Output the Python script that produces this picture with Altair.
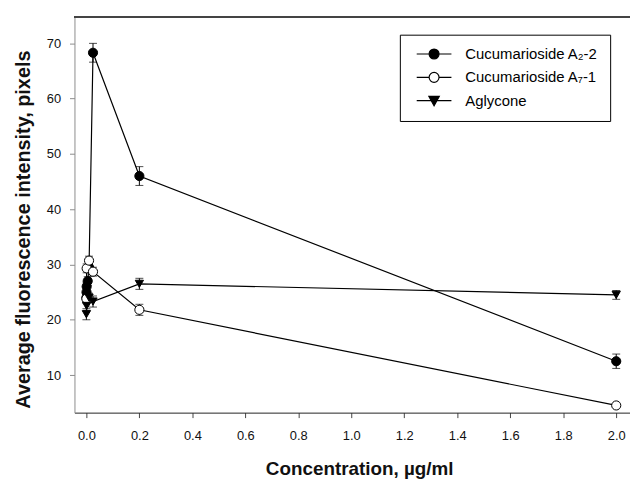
import altair as alt
import pandas as pd

# ---- data ----
series_names = ["Cucumarioside A₂-2", "Cucumarioside A₇-1", "Aglycone"]

a22_x = [0.0, 0.0005, 0.001, 0.005, 0.01, 0.025, 0.2, 2.0]
a22_y = [24.0, 25.0, 26.0, 27.0, 29.5, 68.3, 46.0, 12.5]
a22_e = [0.8, 0.8, 0.8, 0.8, 0.8, 1.7, 1.7, 1.3]

a71_x = [0.0, 0.001, 0.01, 0.025, 0.2, 2.0]
a71_y = [23.8, 29.3, 30.7, 28.7, 21.8, 4.5]
a71_e = [0.8, 0.8, 0.8, 0.8, 1.0, 0.3]

agl_x = [0.0, 0.001, 0.01, 0.025, 0.2, 2.0]
agl_y = [21.0, 22.5, 24.0, 23.3, 26.5, 24.5]
agl_e = [1.0, 0.8, 0.8, 1.0, 1.0, 0.8]

x_ticks = [0.0, 0.2, 0.4, 0.6, 0.8, 1.0, 1.2, 1.4, 1.6, 1.8, 2.0]
y_ticks = [10, 20, 30, 40, 50, 60, 70]

X_DOMAIN = [-0.045, 2.052]
Y_DOMAIN = [3.2, 74.8]

rows = []
for name, xs, ys, es in [
    (series_names[0], a22_x, a22_y, a22_e),
    (series_names[1], a71_x, a71_y, a71_e),
    (series_names[2], agl_x, agl_y, agl_e),
]:
    for xv, yv, ev in zip(xs, ys, es):
        rows.append({"series": name, "x": xv, "y": yv, "lo": yv - ev, "hi": yv + ev})
df = pd.DataFrame(rows)

FONT = "Liberation Sans"

xscale = alt.Scale(domain=X_DOMAIN, nice=False, zero=False)
yscale = alt.Scale(domain=Y_DOMAIN, nice=False, zero=False)

x_bottom = alt.X(
    "x:Q", scale=xscale,
    axis=alt.Axis(values=x_ticks, format=".1f", title="Concentration, µg/ml",
                  orient="bottom", grid=False, domainColor="#222", tickColor="#444",
                  tickSize=5, labelPadding=12, titlePadding=17, labelFlush=False,
                  titleX=287),
)
y_enc = alt.Y(
    "y:Q", scale=yscale,
    axis=alt.Axis(values=y_ticks, title="Average fluorescence intensity, pixels",
                  grid=False, domainColor="#8c8c8c", tickColor="#8c8c8c", tickSize=5,
                  labelPadding=9, titlePadding=13, titleFontSize=20, titleY=214),
)

base = alt.Chart(df)

# top frame line at the top of the y domain
frame_top = alt.Chart(df).mark_rule(color="#444", strokeWidth=1.3).encode(
    y=alt.datum(Y_DOMAIN[1])
)

lines = base.mark_line(color="black", strokeWidth=1.2).encode(
    x=x_bottom, y=y_enc, detail="series:N", order="x:Q"
)

err = base.mark_rule(color="black", strokeWidth=1).encode(
    x="x:Q", y="lo:Q", y2="hi:Q"
)
cap_lo = base.mark_tick(color="black", orient="horizontal", size=8, thickness=1).encode(
    x="x:Q", y="lo:Q"
)
cap_hi = base.mark_tick(color="black", orient="horizontal", size=8, thickness=1).encode(
    x="x:Q", y="hi:Q"
)

pts_a22 = base.transform_filter(alt.datum.series == series_names[0]).mark_point(
    shape="circle", filled=True, fill="black", stroke="black", strokeWidth=1, size=85, opacity=1
).encode(x="x:Q", y="y:Q")
pts_a71 = base.transform_filter(alt.datum.series == series_names[1]).mark_point(
    shape="circle", filled=True, fill="white", stroke="black", strokeWidth=1, size=85, opacity=1
).encode(x="x:Q", y="y:Q")
pts_agl = base.transform_filter(alt.datum.series == series_names[2]).mark_point(
    shape="triangle-down", filled=True, fill="black", stroke="black", strokeWidth=1, size=70, opacity=1
).encode(x="x:Q", y="y:Q")

legend_paths = [
    "M-3.5,0H-1M1,0H3.5M-1,0A1,1,0,1,1,1,0A1,1,0,1,1,-1,0Z",
    "M-3.5,0H-1M1,0H3.5M-1,0A1,1,0,1,1,1,0A1,1,0,1,1,-1,0Z",
    "M-3.5,0H3.5M-1.05,-0.85L1.05,-0.85L0,1.05Z",
]
legend = alt.Legend(
    title=None, orient="none", legendX=328, legendY=18, padding=12,
    strokeColor="black", fillColor="white", labelFont=FONT, labelFontSize=15,
    labelColor="black", symbolOffset=15, labelOffset=24, rowPadding=7.5,
    symbolSize=100, symbolStrokeWidth=1.2, symbolOpacity=1,
)
# legend-only layer: no rows survive the filter, the legend comes from the scale domains
legend_layer = base.transform_filter(alt.datum.x < -1).mark_point(
    size=100, strokeWidth=1.2, filled=True, opacity=1
).encode(
    x="x:Q", y="y:Q",
    shape=alt.Shape("series:N", scale=alt.Scale(domain=series_names, range=legend_paths), legend=legend),
    fill=alt.Fill("series:N", scale=alt.Scale(domain=series_names, range=["black", "white", "black"]), legend=legend),
    stroke=alt.Stroke("series:N", scale=alt.Scale(domain=series_names, range=["black", "black", "black"]), legend=legend),
)

chart = (
    alt.layer(lines, frame_top, err, cap_lo, cap_hi, pts_a22, pts_a71, pts_agl, legend_layer)
    .properties(
        width=560, height=399,
        padding={"left": 67, "top": 7, "right": 0, "bottom": 65},
        autosize=alt.AutoSizeParams(type="none"),
    )
    .configure_view(stroke=None)
    .configure_axis(labelFont=FONT, labelFontSize=13, labelColor="#111",
                    titleFont=FONT, titleFontSize=19, titleFontWeight="bold", titleColor="#111")
)

chart.save("out.html", embed_options={"renderer": "svg", "actions": False})
